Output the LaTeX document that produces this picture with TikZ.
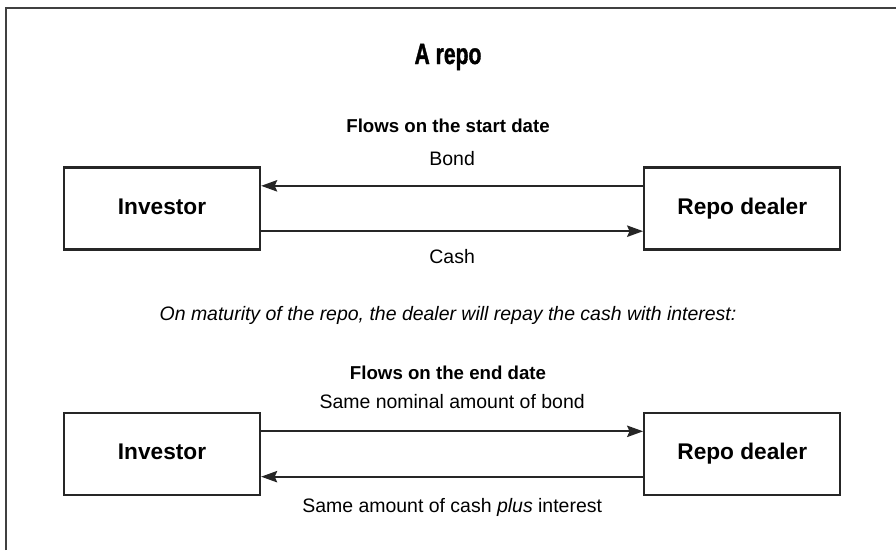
\documentclass[tikz,border=0pt]{standalone}
\usepackage{fontspec}
\setmainfont{Liberation Sans}
\newfontfamily\repotitle[FakeStretch=0.72,FakeBold=1.2]{Liberation Sans}
\usetikzlibrary{positioning,arrows.meta}

\begin{document}
\begin{tikzpicture}[x=0.75pt,y=-0.75pt,node distance=286.5pt,
 party/.style={draw=black!85,line width=1.7pt,minimum width=147pt,minimum height=61.5pt,inner sep=0pt,text height=12.2pt,text depth=3.6pt,font=\fontsize{17}{20}\selectfont\bfseries},
 arr/.style={-{Stealth[length=12pt,width=8.5pt,inset=1.8pt]},line width=1.6pt,draw=black!85},
 flow/.style={midway,anchor=base,font=\fontsize{14.6}{17}\selectfont},
 head/.style={anchor=base,font=\fontsize{14}{17}\selectfont\bfseries}]
\useasboundingbox (0,0) rectangle (896,550);
\draw[black!75,line width=1.5pt] (6,550) -- (6,7.5) -- (896,7.5);
\node[anchor=base,font=\repotitle\bfseries\fontsize{22}{26}\selectfont] (title) at (448,64) {A repo};
\node[head] (start) at (448,132) {Flows on the start date};
\node[party] (inv1) at (162,208.5) {Investor};
\node[party,right=of inv1] (dlr1) {Repo dealer};
\draw[arr] ([yshift=17pt]dlr1.west) -- ([yshift=17pt]inv1.east) node[flow,yshift=15pt] {Bond};
\draw[arr] ([yshift=-17pt]inv1.east) -- ([yshift=-17pt]dlr1.west) node[flow,yshift=-24pt] {Cash};
\node[anchor=base,font=\fontsize{14.6}{17}\selectfont\itshape] (note) at (448,320) {On maturity of the repo, the dealer will repay the cash with interest:};
\node[head] (end) at (448,379) {Flows on the end date};
\node[party] (inv2) at (162,454) {Investor};
\node[party,right=of inv2] (dlr2) {Repo dealer};
\draw[arr] ([yshift=17pt]inv2.east) -- ([yshift=17pt]dlr2.west) node[flow,yshift=17pt] {Same nominal amount of bond};
\draw[arr] ([yshift=-17pt]dlr2.west) -- ([yshift=-17pt]inv2.east) node[flow,yshift=-27pt] {Same amount of cash \textit{plus} interest};
\end{tikzpicture}
\end{document}
